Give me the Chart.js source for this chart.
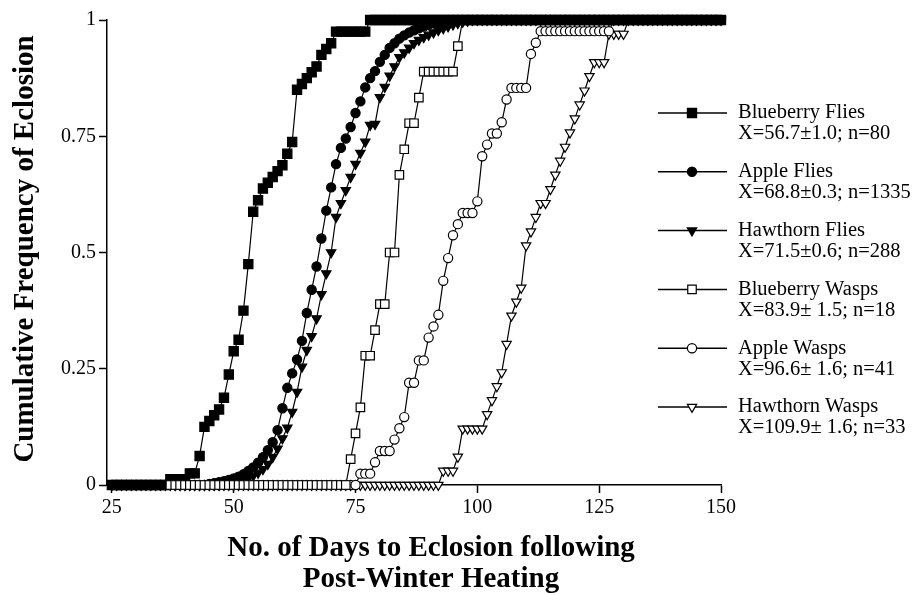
<!DOCTYPE html>
<html lang="en">
<head>
<meta charset="UTF-8">
<title>Cumulative Frequency of Eclosion</title>
<script src="https://cdn.jsdelivr.net/npm/chart.js"></script>
<style>
  html, body { margin: 0; padding: 0; background: #fff; }
  canvas { display: block; }
</style>
</head>
<body>
<canvas id="chart" width="918" height="595"></canvas>
<script>
  // x axis ticks (days) and y ticks (cumulative frequency)
  const xTicks = [25, 50, 75, 100, 125, 150];
  const yTicks = [0, 0.25, 0.5, 0.75, 1];

  const seriesNames = ['Blueberry Flies', 'Apple Flies', 'Hawthorn Flies',
                       'Blueberry Wasps', 'Apple Wasps', 'Hawthorn Wasps'];
  const seriesStats = ['X=56.7\u00b11.0; n=80', 'X=68.8\u00b10.3; n=1335', 'X=71.5\u00b10.6; n=288',
                       'X=83.9\u00b1 1.5; n=18', 'X=96.6\u00b1 1.6; n=41', 'X=109.9\u00b1 1.6; n=33'];

  // one value per day, starting at the given day
  const blueberryFliesStart = 25;
  const blueberryFlies = [
    0, 0, 0, 0, 0, 0, 0, 0, 0, 0,
    0, 0, 0.0125, 0.0125, 0.0125, 0.0125, 0.025, 0.025, 0.0625, 0.125,
    0.1375, 0.15, 0.1625, 0.1875, 0.2375, 0.2875, 0.3125, 0.375, 0.475, 0.5875,
    0.6125, 0.6375, 0.65, 0.6625, 0.675, 0.6875, 0.7125, 0.7375, 0.85, 0.8625,
    0.875, 0.8875, 0.9, 0.925, 0.9375, 0.95, 0.975, 0.975, 0.975, 0.975,
    0.975, 0.975, 0.975, 1, 1, 1, 1, 1, 1, 1,
    1, 1, 1, 1, 1, 1, 1, 1, 1, 1,
    1, 1, 1, 1, 1, 1, 1, 1, 1, 1,
    1, 1, 1, 1, 1, 1, 1, 1, 1, 1,
    1, 1, 1, 1, 1, 1, 1, 1, 1, 1,
    1, 1, 1, 1, 1, 1, 1, 1, 1, 1,
    1, 1, 1, 1, 1, 1, 1, 1, 1, 1,
    1, 1, 1, 1, 1, 1
  ];

  const appleFliesStart = 25;
  const appleFlies = [
    0, 0, 0, 0, 0, 0, 0, 0, 0, 0,
    0, 0, 0, 0, 0, 0, 0, 0, 0, 0,
    0.002, 0.004, 0.006, 0.008, 0.011, 0.014, 0.018, 0.023, 0.03, 0.038,
    0.048, 0.06, 0.075, 0.092, 0.118, 0.165, 0.209, 0.24, 0.27, 0.31,
    0.37, 0.42, 0.47, 0.53, 0.59, 0.64, 0.69, 0.725, 0.745, 0.77,
    0.8, 0.825, 0.855, 0.875, 0.89, 0.91, 0.925, 0.94, 0.95, 0.96,
    0.967, 0.973, 0.978, 0.982, 0.986, 0.99, 0.993, 0.995, 0.997, 0.999,
    1, 1, 1, 1, 1, 1, 1, 1, 1, 1,
    1, 1, 1, 1, 1, 1, 1, 1, 1, 1,
    1, 1, 1, 1, 1, 1, 1, 1, 1, 1,
    1, 1, 1, 1, 1, 1, 1, 1, 1, 1,
    1, 1, 1, 1, 1, 1, 1, 1, 1, 1,
    1, 1, 1, 1, 1, 1
  ];

  const hawthornFliesStart = 25;
  const hawthornFlies = [
    0, 0, 0, 0, 0, 0, 0, 0, 0, 0,
    0, 0, 0, 0, 0, 0, 0, 0, 0, 0,
    0, 0, 0, 0.002, 0.004, 0.006, 0.008, 0.011, 0.015, 0.02,
    0.026, 0.034, 0.045, 0.06, 0.078, 0.1, 0.123, 0.157, 0.2, 0.254,
    0.29, 0.32, 0.358, 0.41, 0.455, 0.5, 0.576, 0.606, 0.634, 0.662,
    0.69, 0.714, 0.738, 0.774, 0.776, 0.834, 0.856, 0.88, 0.9, 0.92,
    0.93, 0.94, 0.95, 0.957, 0.963, 0.968, 0.973, 0.978, 0.982, 0.986,
    0.99, 0.993, 0.996, 0.998, 1, 1, 1, 1, 1, 1,
    1, 1, 1, 1, 1, 1, 1, 1, 1, 1,
    1, 1, 1, 1, 1, 1, 1, 1, 1, 1,
    1, 1, 1, 1, 1, 1, 1, 1, 1, 1,
    1, 1, 1, 1, 1, 1, 1, 1, 1, 1,
    1, 1, 1, 1, 1, 1
  ];

  const blueberryWaspsStart = 37;
  const blueberryWasps = [
    0, 0, 0, 0, 0, 0, 0, 0, 0, 0,
    0, 0, 0, 0, 0, 0, 0, 0, 0, 0,
    0, 0, 0, 0, 0, 0, 0, 0, 0, 0,
    0, 0, 0, 0, 0, 0, 0,
    0.0556, 0.111, 0.167, 0.278, 0.278, 0.333, 0.389, 0.389, 0.5, 0.5,
    0.667, 0.722, 0.778, 0.778, 0.833, 0.889, 0.889, 0.889, 0.889, 0.889,
    0.889, 0.889, 0.944, 1
  ];

  const appleWaspsStart = 38;
  const appleWasps = [
    0, 0, 0, 0, 0, 0, 0, 0, 0, 0,
    0, 0, 0, 0, 0, 0, 0, 0, 0, 0,
    0, 0, 0, 0, 0, 0, 0, 0, 0, 0,
    0, 0, 0, 0, 0, 0, 0, 0,
    0.0244, 0.0244, 0.0244, 0.0488, 0.0732, 0.0732, 0.0732, 0.0976, 0.122, 0.146,
    0.22, 0.22, 0.268, 0.268, 0.317, 0.341, 0.366, 0.439, 0.488, 0.537,
    0.561, 0.585, 0.585, 0.585, 0.61, 0.707, 0.732, 0.756, 0.756, 0.78,
    0.829, 0.854, 0.854, 0.854, 0.854, 0.927, 0.951, 0.976, 0.976, 0.976,
    0.976, 0.976, 0.976, 0.976, 0.976, 0.976, 0.976, 0.976, 0.976, 0.976,
    0.976, 0.976, 1
  ];

  const hawthornWaspsStart = 38;
  const hawthornWasps = [
    0, 0, 0, 0, 0, 0, 0, 0, 0, 0,
    0, 0, 0, 0, 0, 0, 0, 0, 0, 0,
    0, 0, 0, 0, 0, 0, 0, 0, 0, 0,
    0, 0, 0, 0, 0, 0, 0, 0, 0, 0,
    0, 0, 0, 0, 0, 0, 0, 0, 0, 0,
    0, 0, 0, 0, 0,
    0.0303, 0.0303, 0.0303, 0.0606, 0.121, 0.121, 0.121, 0.121, 0.121, 0.152,
    0.182, 0.212, 0.242, 0.303, 0.364, 0.394, 0.424, 0.515, 0.545, 0.576,
    0.606, 0.606, 0.636, 0.667, 0.697, 0.727, 0.758, 0.788, 0.818, 0.848,
    0.879, 0.909, 0.909, 0.909, 0.97, 0.97, 0.97, 0.97, 1
  ];

  const xTitle = ['No. of Days to Eclosion following', 'Post-Winter Heating'];
  const yTitle = 'Cumulative Frequency of Eclosion';

  const FONT = '"Liberation Serif", "Times New Roman", serif';

  function toPoints(start, values) {
    return values.map((v, i) => ({ x: start + i, y: v }));
  }

  // marker look per series: shape, filled?, radius
  const markers = [
    { style: 'rect', filled: true, r: 6.5 },
    { style: 'circle', filled: true, r: 4.6 },
    { style: 'triangle', filled: true, r: 5.4 },
    { style: 'rect', filled: false, r: 6 },
    { style: 'circle', filled: false, r: 4.6 },
    { style: 'triangle', filled: false, r: 5.4 }
  ];

  const seriesData = [
    toPoints(blueberryFliesStart, blueberryFlies),
    toPoints(appleFliesStart, appleFlies),
    toPoints(hawthornFliesStart, hawthornFlies),
    toPoints(blueberryWaspsStart, blueberryWasps),
    toPoints(appleWaspsStart, appleWasps),
    toPoints(hawthornWaspsStart, hawthornWasps)
  ];

  // wasps drawn above flies (lower order = on top)
  const drawOrder = [3, 4, 5, 0, 1, 2];

  const datasets = seriesData.map((data, i) => ({
    label: seriesNames[i],
    data: data,
    showLine: true,
    borderColor: '#000',
    borderWidth: 1.2,
    tension: 0,
    clip: false,
    order: drawOrder[i],
    pointStyle: markers[i].style,
    pointRotation: markers[i].style === 'triangle' ? 180 : 0,
    // open markers disappear into the black band at 1
    pointRadius: (c) => (!markers[i].filled && c.raw && c.raw.y === 1) ? 0 : markers[i].r,
    pointBackgroundColor: markers[i].filled ? '#000' : '#fff',
    pointBorderColor: '#000',
    pointBorderWidth: 1.2
  }));

  function drawMarker(ctx, m, x, y) {
    ctx.beginPath();
    if (m.style === 'rect') {
      const s = Math.SQRT1_2 * m.r;
      ctx.rect(x - s, y - s, 2 * s, 2 * s);
    } else if (m.style === 'circle') {
      ctx.arc(x, y, m.r, 0, Math.PI * 2);
    } else {
      const r = m.r;
      ctx.moveTo(x, y + r);
      ctx.lineTo(x + r * Math.sin(Math.PI * 2 / 3), y - r * 0.5);
      ctx.lineTo(x - r * Math.sin(Math.PI * 2 / 3), y - r * 0.5);
      ctx.closePath();
    }
    ctx.fillStyle = m.filled ? '#000' : '#fff';
    ctx.fill();
    ctx.lineWidth = 1.2;
    ctx.strokeStyle = '#000';
    ctx.stroke();
  }

  const extras = {
    id: 'extras',
    afterDraw(chart) {
      const ctx = chart.ctx;
      ctx.save();
      ctx.fillStyle = '#000';
      ctx.textBaseline = 'middle';

      // axis titles
      ctx.font = 'bold 29px ' + FONT;
      ctx.textAlign = 'center';
      ctx.fillText(xTitle[0], 431, 549);
      ctx.fillText(xTitle[1], 431, 580);
      ctx.save();
      ctx.translate(26, 249);
      ctx.rotate(-Math.PI / 2);
      ctx.fillText(yTitle, 0, 0);
      ctx.restore();

      // legend
      ctx.textAlign = 'left';
      ctx.font = '20.5px ' + FONT;
      seriesNames.forEach((name, i) => {
        const y = 113 + i * 58.8;
        ctx.beginPath();
        ctx.moveTo(658, y);
        ctx.lineTo(727, y);
        ctx.lineWidth = 1.5;
        ctx.strokeStyle = '#000';
        ctx.stroke();
        drawMarker(ctx, markers[i], 692, y);
        ctx.fillStyle = '#000';
        ctx.fillText(name, 738, y);
        ctx.fillText(seriesStats[i], 738, y + 21);
      });
      ctx.restore();
    }
  };

  new Chart(document.getElementById('chart'), {
    type: 'scatter',
    data: { datasets: datasets },
    plugins: [extras],
    options: {
      responsive: false,
      animation: false,
      devicePixelRatio: 1,
      layout: { padding: { left: 0, right: 197, top: 20, bottom: 0 } },
      plugins: {
        legend: { display: false },
        tooltip: { enabled: false }
      },
      scales: {
        x: {
          type: 'linear',
          min: 24,
          max: 150,
          afterBuildTicks: (scale) => { scale.ticks = xTicks.map(v => ({ value: v })); },
          afterFit: (scale) => { scale.height = 110; },
          grid: { drawOnChartArea: false, drawTicks: true, tickLength: 8, tickColor: '#000', tickWidth: 1.5 },
          border: { display: true, color: '#000', width: 1.5 },
          ticks: { color: '#000', font: { family: FONT, size: 20 }, padding: 3, maxRotation: 0 }
        },
        y: {
          type: 'linear',
          min: 0,
          max: 1,
          afterBuildTicks: (scale) => { scale.ticks = yTicks.map(v => ({ value: v })); },
          afterFit: (scale) => { scale.width = 107; },
          grid: { drawOnChartArea: false, drawTicks: true, tickLength: 8, tickColor: '#000', tickWidth: 1.5 },
          border: { display: true, color: '#000', width: 1.5 },
          ticks: { color: '#000', font: { family: FONT, size: 20 }, padding: 3, callback: (v) => String(v) }
        }
      }
    }
  });
</script>
</body>
</html>
